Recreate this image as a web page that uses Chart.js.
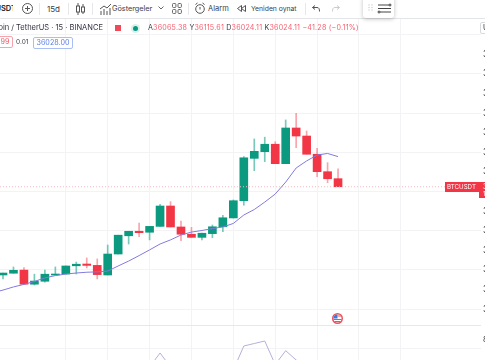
<!DOCTYPE html>
<html>
<head>
<meta charset="utf-8">
<title>BTCUSDT</title>
<script src="https://cdn.jsdelivr.net/npm/chart.js@4"></script>
<style>
  html, body { margin: 0; padding: 0; background: #fff; overflow: hidden; width: 485px; height: 360px; }
  body { font-family: Inter, "Noto Sans", sans-serif; color: #3a3d47; position: relative; }
  #wrap { position: absolute; left: 0; top: 0; width: 485px; height: 360px; overflow: hidden; filter: blur(0.3px); }
  #chartBox { position: absolute; left: 0; top: 19px; }
  .t { position: absolute; white-space: nowrap; line-height: 12px; }
  .sep { position: absolute; top: 3px; width: 1px; height: 12px; background: #e6e7eb; }
  #header { position: absolute; left: 0; top: 0; width: 485px; height: 18px; background: #fff; border-bottom: 1px solid #e4e5e9; }
  #panel { position: absolute; left: 363px; top: -4px; width: 31px; height: 22px; background: #fff; border-radius: 3px; box-shadow: 0 1px 4px rgba(0,0,0,.25); }
  svg { position: absolute; overflow: visible; }
  .pane { position: absolute; left: 0; top: 325px; width: 481px; height: 1px; background: #e8e8ec; }
  .red { color: #f4606f; }
  .box { position: absolute; height: 10px; line-height: 10px; font-size: 7.2px; border-radius: 2px; background: #fff; text-align: center; }
</style>
</head>
<body>
<div id="wrap">
  <div id="chartBox"><canvas id="btcChart" width="540" height="341"></canvas></div>
  <div class="pane"></div>

  <div id="header">
    <div style="position:absolute;left:0;top:0;width:13px;height:18px;overflow:hidden">
      <span class="t" style="right:-3px;top:3px;font-size:7.500px;font-weight:600;color:#131722">BTCUSDT</span>
    </div>
    <svg style="left:22px;top:3px" width="11" height="11" fill="none" stroke="#555"><circle cx="5.500" cy="5.500" r="5"/><path d="M5.500 3v5M3 5.500h5"/></svg>
    <div class="sep" style="left:39px"></div>
    <span class="t" style="left:47px;top:3px;font-size:8px">15d</span>
    <div class="sep" style="left:68px"></div>
    <svg style="left:76px;top:3px" width="9" height="12" fill="none" stroke="#555"><path d="M2 0v12M7 1v10"/><rect x="0.500" y="3" width="3" height="6" fill="#fff"/><rect x="5.500" y="4" width="3" height="5" fill="#fff"/></svg>
    <div class="sep" style="left:92px"></div>
    <svg style="left:100px;top:3px" width="11" height="12" fill="none" stroke="#555"><path d="M0 6l4-3 3 2 4-4M1 12V8M4 12V6M7 12V8M10 12V5"/></svg>
    <span class="t" style="left:112px;top:3px;font-size:7.300px">Göstergeler</span>
    <svg style="left:158px;top:6px" width="6" height="4" fill="none" stroke="#666"><path d="M0.500 0.500L3 3L5.500 0.500"/></svg>
    <svg style="left:172px;top:3px" width="10" height="11" fill="none" stroke="#666"><rect x="0.500" y="0.500" width="3.400" height="4" rx="1"/><rect x="6" y="0.500" width="3.400" height="4" rx="1"/><rect x="0.500" y="6.500" width="3.400" height="4" rx="1"/><rect x="6" y="6.500" width="3.400" height="4" rx="1"/></svg>
    <div class="sep" style="left:188px"></div>
    <svg style="left:195px;top:3px" width="10" height="11" fill="none" stroke="#555"><circle cx="5" cy="6" r="4.300"/><path d="M5 4v2.500M0.500 1.500L2.500 0M9.500 1.500L7.500 0"/></svg>
    <span class="t" style="left:208px;top:3px;font-size:7.500px">Alarm</span>
    <svg style="left:237px;top:5px" width="9" height="7" fill="#fff" stroke="#555"><path d="M4.500 0.500L0.500 3.500L4.500 6.500ZM8.500 0.500L4.500 3.500L8.500 6.500Z"/></svg>
    <span class="t" style="left:251px;top:3px;font-size:6.800px">Yeniden oynat</span>
    <div class="sep" style="left:305px"></div>
    <svg style="left:312px;top:5px" width="8" height="7" fill="none" stroke="#555"><path d="M3 0.500L0.500 2.500L3 4.500M0.500 2.500H5c2 0 2.500 1.500 2.500 4"/></svg>
    <svg style="left:332px;top:5px" width="8" height="7" fill="none" stroke="#c9cbd1"><path d="M5 0.500L7.500 2.500L5 4.500M7.500 2.500H3c-2 0-2.500 1.500-2.500 4"/></svg>
  </div>
  <div id="panel">
    <svg style="left:5px;top:8px" width="5" height="7" fill="#d5d6da"><circle cx="1" cy="1" r=".8"/><circle cx="4" cy="1" r=".8"/><circle cx="1" cy="3.500" r=".8"/><circle cx="4" cy="3.500" r=".8"/><circle cx="1" cy="6" r=".8"/><circle cx="4" cy="6" r=".8"/></svg>
    <svg style="left:15px;top:8px" width="14" height="10" fill="#fff" stroke="#444"><path d="M0 1h13M0 4.500h13M0 8h13"/><circle cx="12" cy="1" r="1"/><circle cx="1" cy="8" r="1"/></svg>
  </div>

  <span class="t" style="left:-15px;top:22px;font-size:7.500px;color:#2f3240">Bitcoin / TetherUS · 15 · BINANCE</span>
  <div style="position:absolute;left:115px;top:25px;width:6px;height:6px;background:#f04a58"></div>
  <div style="position:absolute;left:133px;top:26px;width:5px;height:5px;border-radius:50%;background:#089981;box-shadow:0 0 0 2px #d9f0eb"></div>
  <span class="t" style="left:148px;top:22px;font-size:7.100px;letter-spacing:.03em">A<span class="red">36065.38</span> Y<span class="red">36115.61</span> D<span class="red">36024.11</span> K<span class="red">36024.11</span> <span class="red">−41.28 (−0.11%)</span></span>

  <div class="box" style="left:-26px;top:36px;width:37px;border:1px solid #f6a3ab;color:#f2535f">36027.99</div>
  <span class="t" style="left:16px;top:36px;font-size:6.500px">0.01</span>
  <div class="box" style="left:33px;top:37px;width:38px;border:1px solid #a9bdf6;color:#5a7de6">36028.00</div>

  <div class="box" style="left:480px;top:22px;width:30px;border:1px solid #d8d9dd;color:#333;text-align:left;padding-left:2px">USDT</div>

  <!-- last price tags -->
  <div style="position:absolute;left:445px;top:182px;width:40px;height:10px;background:#f23645"></div>
  <div style="position:absolute;left:479px;top:190px;width:6px;height:8px;background:#f23645"></div>
  <span class="t" style="left:447px;top:181px;font-size:6.200px;color:#fff">BTCUSDT</span>
  <span class="t" style="left:483px;top:181px;font-size:7px;color:#fff">36024.11</span>
  <span class="t" style="left:483px;top:188px;font-size:6.500px;color:#fff">10:12</span>
  <span class="t" style="left:483px;top:334px;font-size:7.500px;color:#333">80.00</span>

  <!-- us flag -->
  <svg style="left:332px;top:313px" width="11" height="11"><circle cx="5.500" cy="5.500" r="5.500" fill="#e9505c"/><circle cx="5.500" cy="5.500" r="4" fill="#fff"/><path d="M1.500 5.500a4 4 0 0 1 4-4v4z" fill="#3b78e0"/><path d="M5.500 3h3.500M1.500 6.500h8M2.500 8.500h6" stroke="#e9505c"/></svg>
</div>

<script>
// values, one entry per 15 min candle. first slot sits off the left edge
const slots = [1,2,3,4,5,6,7,8,9,10,11,12,13,14,15,16,17,18,19,20,21,22,23,24,25,26,27,28,29,30,31,32,33,34];
const opens = [35565,35574,35583,35599,35527,35542,35574,35579,35621,35630,35623,35574,35681,35774,35797,35792,35822,35926,35819,35782,35766,35785,35820,35865,35953,36169,36203,36241,36142,36324,36283,36190,36101,36065.38];
const closes = [35574,35584,35598,35527,35543,35578,35579,35620,35629,35623,35576,35681,35777,35797,35790,35822,35926,35819,35782,35766,35787,35820,35866,35953,36172,36205,36241,36142,36324,36283,36190,36101,36065,36024.11];
const highs = [35580,35584,35615,35612,35578,35599,35615,35620,35640,35661,35656,35727,35777,35797,35839,35822,35935,35948,35849,35817,35788,35829,35879,35957,36178,36268,36277,36254,36365,36399,36309,36220,36147,36115.61];
const lows = [35560,35554,35583,35526,35523,35538,35574,35579,35579,35610,35554,35574,35681,35732,35769,35753,35822,35819,35749,35766,35753,35764,35795,35865,35930,36106,36152,36142,36142,36223,36190,36076,36045,36024.11];
const maValues = [35483,35497,35513,35526,35541,35559,35571,35579,35584,35588,35590,35594,35620,35645,35673,35702,35732,35753,35778,35793,35801,35811,35819,35837,35880,35908,35946,35987,36048,36120,36156,36186,36194,36178];
// lower pane oscillator, mostly below the visible part of the pane
const oscValues = [null,null,null,null,null,null,null,null,null,null,null,null,null,null,null,43,57,43,null,null,null,null,null,40,64,66.5,69,45.5,59.3,50,43,null,null,null];
const lastPrice = 36024.11;

const upColor = '#0b9a80';
const downColor = '#f23645';
const xMin = 1.7135;
const xMax = 47.654;

const isUp = slots.map((s, i) => closes[i] >= opens[i]);

new Chart(document.getElementById('btcChart').getContext('2d'), {
  type: 'bar',
  data: {
    datasets: [
      {
        label: 'wick',
        order: 4,
        grouped: false,
        barThickness: 1,
        backgroundColor: isUp.map(u => u ? 'rgba(11,154,128,.55)' : 'rgba(242,54,69,.45)'),
        data: slots.map((s, i) => ({ x: s, y: [lows[i], highs[i]] }))
      },
      {
        label: 'body',
        order: 3,
        grouped: false,
        barThickness: 8,
        backgroundColor: isUp.map(u => u ? upColor : downColor),
        data: slots.map((s, i) => ({ x: s, y: [opens[i], closes[i]] }))
      },
      {
        type: 'line',
        label: 'MA',
        order: 1,
        borderColor: '#8379e0',
        borderWidth: 1,
        pointRadius: 0,
        data: slots.map((s, i) => ({ x: s, y: maValues[i] }))
      },
      {
        type: 'line',
        label: 'Last',
        order: 2,
        borderColor: '#f8b9c0',
        borderWidth: 1,
        borderDash: [1, 2],
        pointRadius: 0,
        data: [{ x: xMin, y: lastPrice }, { x: xMax, y: lastPrice }]
      },
      {
        type: 'line',
        label: 'Osc',
        order: 1,
        yAxisID: 'osc',
        borderColor: '#b4b0da',
        borderWidth: 1,
        pointRadius: 0,
        data: slots.map((s, i) => ({ x: s, y: oscValues[i] }))
      }
    ]
  },
  options: {
    responsive: false,
    animation: false,
    layout: { padding: 0 },
    plugins: { legend: { display: false }, tooltip: { enabled: false } },
    scales: {
      x: {
        type: 'linear',
        offset: false,
        min: xMin,
        max: xMax,
        afterBuildTicks: axis => { axis.ticks = axis.ticks.filter(t => t.value % 4 === 0); },
        ticks: { display: false, stepSize: 4 },
        border: { display: false },
        grid: { color: '#f3f3f6', drawTicks: false, offset: false }
      },
      y: {
        position: 'right',
        min: 35140.3,
        max: 36880,
        afterFit: axis => {
          axis.width = 59;
          // labels at the ends would otherwise shrink the plot
          axis.paddingTop = 0;
          axis.paddingBottom = 0;
        },
        ticks: {
          stepSize: 100,
          padding: 2,
          color: '#333',
          font: { size: 8.5, family: 'Inter' },
          callback: v => (v > 36700 || v < 35400) ? '' : v.toFixed(2)
        },
        border: { display: false },
        grid: {
          drawTicks: false,
          color: c => c.tick.value % 200 === 0 ? '#f3f3f6' : 'rgba(0,0,0,0)'
        }
      },
      osc: {
        display: false,
        position: 'right',
        min: 50,
        max: 391
      }
    }
  }
});
</script>
</body>
</html>
